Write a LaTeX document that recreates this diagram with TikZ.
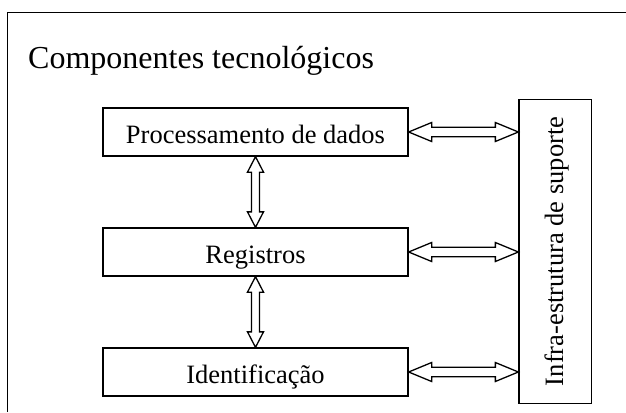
\documentclass[tikz,border=0pt]{standalone}
\usepackage{fontspec}
\setmainfont{Liberation Serif}
\usetikzlibrary{calc}
\tikzset{
  box/.style={draw, line width=1.3pt, minimum width=305pt, minimum height=48pt,
    inner sep=0pt, text height=23pt, text depth=0pt,
    font=\fontsize{26.5}{30}\selectfont},
  tallbox/.style={draw, line width=1.3pt, minimum width=72.6pt, minimum height=304pt,
    inner sep=0pt, font=\fontsize{26.5}{30}\selectfont},
  titletext/.style={anchor=base west, inner sep=0pt, font=\fontsize{32}{38}\selectfont},
  frameline/.style={line width=1.3pt},
  dbl/.style n args={3}{line width=1.3pt, to path={
    -- ($(\tikztostart)!#1!(\tikztotarget)!#2!90:(\tikztotarget)$)
    -- ($(\tikztostart)!#1!(\tikztotarget)!#3!90:(\tikztotarget)$)
    -- ($(\tikztotarget)!#1!(\tikztostart)!#3!-90:(\tikztostart)$)
    -- ($(\tikztotarget)!#1!(\tikztostart)!#2!-90:(\tikztostart)$)
    -- (\tikztotarget)
    -- ($(\tikztotarget)!#1!(\tikztostart)!#2!90:(\tikztostart)$)
    -- ($(\tikztotarget)!#1!(\tikztostart)!#3!90:(\tikztostart)$)
    -- ($(\tikztostart)!#1!(\tikztotarget)!#3!-90:(\tikztotarget)$)
    -- ($(\tikztostart)!#1!(\tikztotarget)!#2!-90:(\tikztotarget)$)
    -- cycle}},
  harrow/.style={dbl={23pt}{9.5pt}{4.7pt}},
  varrow/.style={dbl={15.5pt}{8pt}{4pt}},
}
\begin{document}
\begin{tikzpicture}[x=1pt,y=-1pt]
\useasboundingbox (0,0) rectangle (626,412);
\draw[frameline] (7.5,412) -- (7.5,12.5) -- (626,12.5);
\node[titletext] (title) at (28,69) {Componentes tecnológicos};
\node[box] (p1) at (255.5,132) {Processamento de dados};
\node[box] (p2) at (255.5,252) {Registros};
\node[box] (p3) at (255.5,372) {Identificação};
\node[tallbox] (infra) at (555.3,251.4) {\hspace*{2.8pt}\rotatebox{90}{Infra-estrutura de suporte}};
\draw[harrow] (p1.east) to (infra.west |- p1.east);
\draw[harrow] (p2.east) to (infra.west |- p2.east);
\draw[harrow] (p3.east) to (infra.west |- p3.east);
\draw[varrow] (p1.south) to (p2.north);
\draw[varrow] (p2.south) to (p3.north);
\end{tikzpicture}
\end{document}
